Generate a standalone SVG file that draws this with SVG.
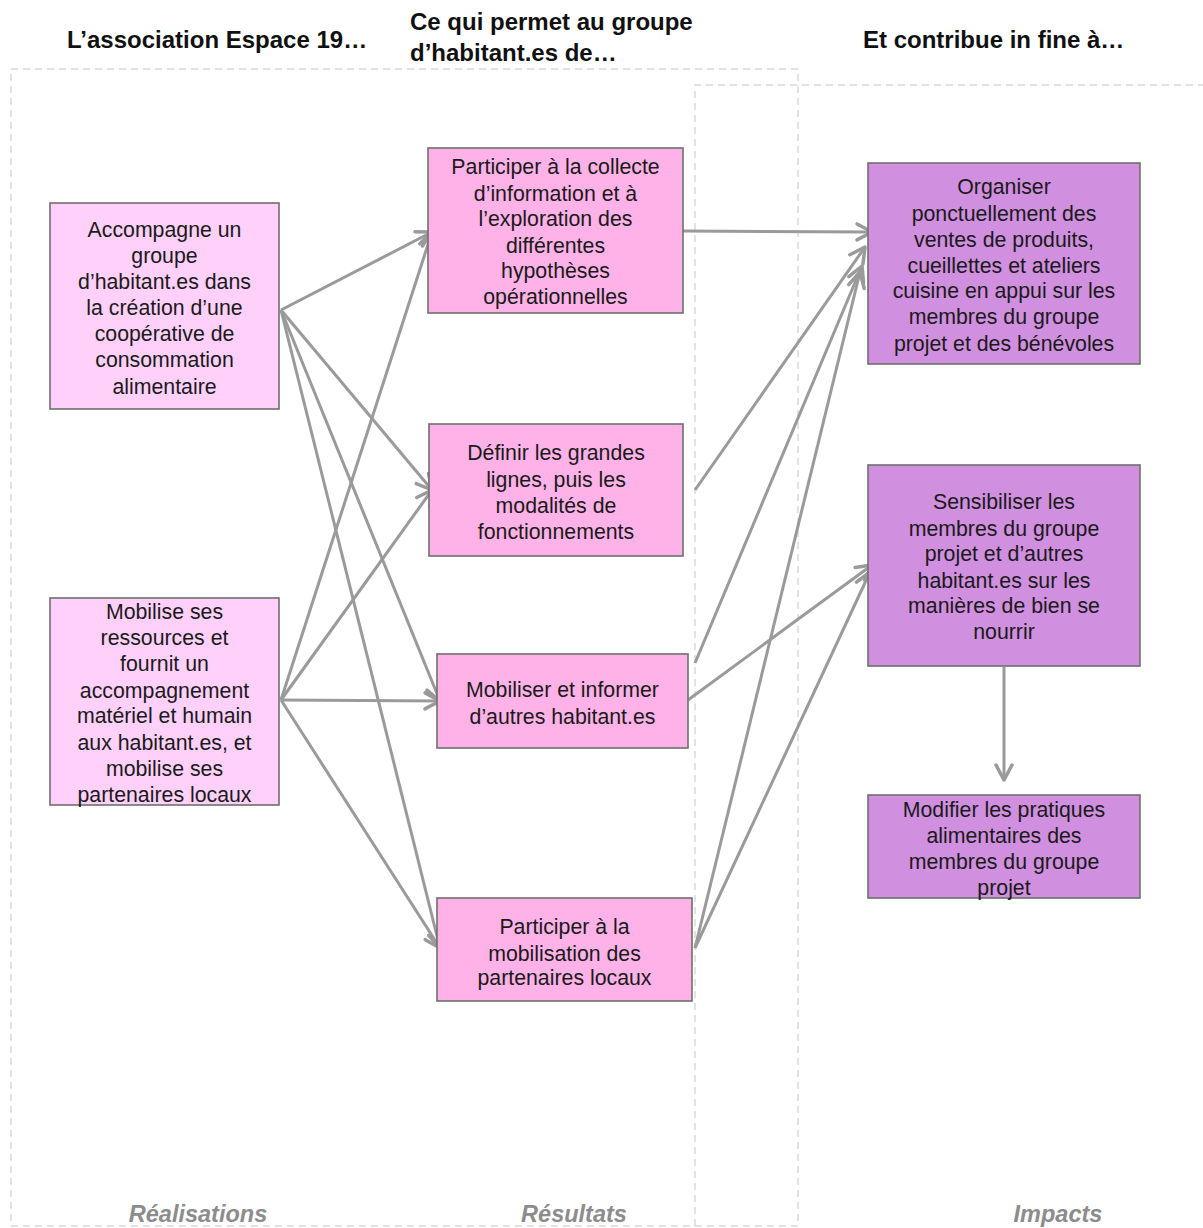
<svg xmlns="http://www.w3.org/2000/svg" width="1203" height="1228" viewBox="0 0 1203 1228">
<style>
.hdr{font-family:"Liberation Sans",Arial,sans-serif;font-weight:bold;font-size:24px;fill:#111}
.ftr{font-family:"Liberation Sans",Arial,sans-serif;font-weight:bold;font-style:italic;font-size:23.5px;fill:#8c8c8c;text-anchor:middle}
.t{font-family:"Liberation Sans",Arial,sans-serif;font-size:21.3px;fill:#1a1a1a;text-anchor:middle}
.box{stroke:#6e6e6e;stroke-width:1.6}
.a{fill:#ffd1fa}
.r{fill:#ffb2e7}
.i{fill:#d08fdf}
.dash{fill:none;stroke:#d9d9d9;stroke-width:1.5;stroke-dasharray:7,5}
.c{fill:none;stroke:#9a9a9a;stroke-width:3;marker-end:url(#arr)}
</style>
<defs>
<marker id="arr" markerUnits="userSpaceOnUse" markerWidth="24" markerHeight="24" refX="18" refY="10" orient="auto" viewBox="0 0 24 20">
<path d="M3,2 L18,10 L3,18" fill="none" stroke="#9a9a9a" stroke-width="3.5" stroke-linecap="round" stroke-linejoin="round"/>
</marker>
</defs>
<rect width="1203" height="1228" fill="#fff"/>
<g id="containers">
<rect class="dash" x="11" y="69" width="787" height="1157"/>
<path class="dash" d="M695,1226 L695,85 L1210,85"/>
</g>
<g id="headers">
<text class="hdr" x="67" y="48">L’association Espace 19…</text>
<text class="hdr" x="410" y="30">Ce qui permet au groupe</text>
<text class="hdr" x="410" y="61">d’habitant.es de…</text>
<text class="hdr" x="863" y="48">Et contribue in fine à…</text>
</g>
<g id="footers">
<text class="ftr" x="198" y="1222">Réalisations</text>
<text class="ftr" x="574" y="1222">Résultats</text>
<text class="ftr" x="1058" y="1222">Impacts</text>
</g>
<g id="connectors">
<path class="c" d="M281,310 L432,232"/>
<path class="c" d="M281,310 L432,490"/>
<path class="c" d="M281,310 L440,701"/>
<path class="c" d="M281,310 L440,948"/>
<path class="c" d="M281,700 L432,232"/>
<path class="c" d="M281,700 L432,490"/>
<path class="c" d="M281,700 L440,701"/>
<path class="c" d="M281,700 L440,948"/>
<path class="c" d="M683,231 L872,232"/>
<path class="c" d="M695,490 L865,247"/>
<path class="c" d="M695,663 L862,266"/>
<path class="c" d="M695,948 L860,272"/>
<path class="c" d="M688,700 L872,565"/>
<path class="c" d="M695,948 L870,572"/>
<path class="c" d="M1004,667 L1004,780"/>
</g>
<g id="n-a1">
<rect class="box a" x="50" y="203" width="229" height="206"/>
<text class="t" x="164.5" y="237">Accompagne un</text>
<text class="t" x="164.5" y="263">groupe</text>
<text class="t" x="164.5" y="289">d’habitant.es dans</text>
<text class="t" x="164.5" y="315">la création d’une</text>
<text class="t" x="164.5" y="341">coopérative de</text>
<text class="t" x="164.5" y="367">consommation</text>
<text class="t" x="164.5" y="394">alimentaire</text>
</g>
<g id="n-a2">
<rect class="box a" x="50" y="598" width="229" height="207"/>
<text class="t" x="164.5" y="619">Mobilise ses</text>
<text class="t" x="164.5" y="645">ressources et</text>
<text class="t" x="164.5" y="671">fournit un</text>
<text class="t" x="164.5" y="698">accompagnement</text>
<text class="t" x="164.5" y="723">matériel et humain</text>
<text class="t" x="164.5" y="750">aux habitant.es, et</text>
<text class="t" x="164.5" y="776">mobilise ses</text>
<text class="t" x="164.5" y="802">partenaires locaux</text>
</g>
<g id="n-r1">
<rect class="box r" x="428" y="148" width="255" height="165"/>
<text class="t" x="555.5" y="174">Participer à la collecte</text>
<text class="t" x="555.5" y="201">d’information et à</text>
<text class="t" x="555.5" y="226">l’exploration des</text>
<text class="t" x="555.5" y="253">différentes</text>
<text class="t" x="555.5" y="278">hypothèses</text>
<text class="t" x="555.5" y="304">opérationnelles</text>
</g>
<g id="n-r2">
<rect class="box r" x="429" y="424" width="254" height="132"/>
<text class="t" x="556" y="460">Définir les grandes</text>
<text class="t" x="556" y="487">lignes, puis les</text>
<text class="t" x="556" y="513">modalités de</text>
<text class="t" x="556" y="539">fonctionnements</text>
</g>
<g id="n-r3">
<rect class="box r" x="437" y="654" width="251" height="94"/>
<text class="t" x="562.5" y="697">Mobiliser et informer</text>
<text class="t" x="562.5" y="724">d’autres habitant.es</text>
</g>
<g id="n-r4">
<rect class="box r" x="437" y="898" width="255" height="103"/>
<text class="t" x="564.5" y="934">Participer à la</text>
<text class="t" x="564.5" y="961">mobilisation des</text>
<text class="t" x="564.5" y="985">partenaires locaux</text>
</g>
<g id="n-i1">
<rect class="box i" x="868" y="163" width="272" height="201"/>
<text class="t" x="1004" y="194">Organiser</text>
<text class="t" x="1004" y="221">ponctuellement des</text>
<text class="t" x="1004" y="247">ventes de produits,</text>
<text class="t" x="1004" y="273">cueillettes et ateliers</text>
<text class="t" x="1004" y="298">cuisine en appui sur les</text>
<text class="t" x="1004" y="324">membres du groupe</text>
<text class="t" x="1004" y="351">projet et des bénévoles</text>
</g>
<g id="n-i2">
<rect class="box i" x="868" y="465" width="272" height="201"/>
<text class="t" x="1004" y="509">Sensibiliser les</text>
<text class="t" x="1004" y="536">membres du groupe</text>
<text class="t" x="1004" y="561">projet et d’autres</text>
<text class="t" x="1004" y="588">habitant.es sur les</text>
<text class="t" x="1004" y="613">manières de bien se</text>
<text class="t" x="1004" y="639">nourrir</text>
</g>
<g id="n-i3">
<rect class="box i" x="868" y="795" width="272" height="103"/>
<text class="t" x="1004" y="817">Modifier les pratiques</text>
<text class="t" x="1004" y="843">alimentaires des</text>
<text class="t" x="1004" y="869">membres du groupe</text>
<text class="t" x="1004" y="895">projet</text>
</g>
</svg>
